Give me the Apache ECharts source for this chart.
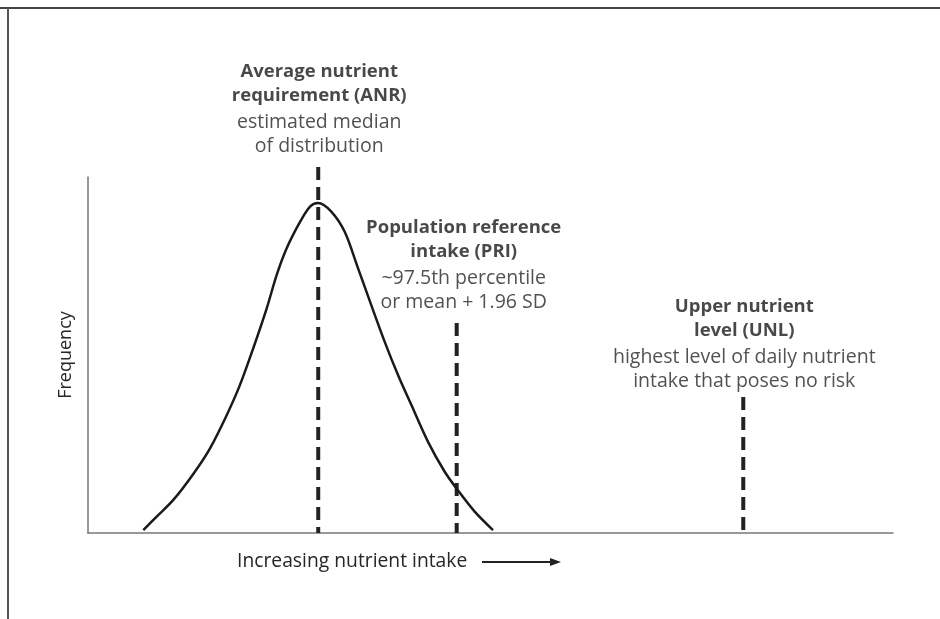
<!DOCTYPE html>
<html>
<head>
<meta charset="utf-8">
<script src="https://cdn.jsdelivr.net/npm/echarts@6/dist/echarts.min.js"></script>
<style>
  html, body { margin: 0; padding: 0; background: #fff; }
  #chart { width: 940px; height: 619px; }
</style>
</head>
<body>
<div id="chart"></div>
<script>
// intake distribution curve (intake units 0-100, relative frequency 0-1)
const curveX = [6.87, 8.53, 10.60, 13.08, 15.16, 17.23, 18.88, 20.53, 22.20, 23.44, 24.68, 26.34, 27.58, 28.57,
    30.22, 31.89, 33.54, 35.19, 36.86, 38.51, 40.16, 42.24, 44.31, 45.75, 48.04, 50.31];
const curveY = [0.008, 0.046, 0.093, 0.166, 0.238, 0.331, 0.416, 0.519, 0.631, 0.725, 0.800, 0.874, 0.917, 0.927,
    0.903, 0.846, 0.744, 0.640, 0.537, 0.444, 0.360, 0.256, 0.172, 0.126, 0.060, 0.008];

// reference values drawn as dashed lines
const refX = [28.6, 45.8, 81.4];
const refTop = [1.028, 0.590, 0.382];
const refTitle = [
    ["Average nutrient", "requirement (ANR)"],
    ["Population reference", "intake (PRI)"],
    ["Upper nutrient", "level (UNL)"]
];
const refNote = [
    ["estimated median", "of distribution"],
    ["~97.5th percentile", "or mean + 1.96 SD"],
    ["highest level of daily nutrient", "intake that poses no risk"]
];
const labelGap = [8, 8, 3];
const labelShift = [1, 7, 1];

const axisName = "Frequency";
const intakeName = "Increasing nutrient intake";

const FONT = "'Open Sans', 'Noto Sans', sans-serif";
const chart = echarts.init(document.getElementById("chart"));

const dashSeries = refX.map((x, i) => ({
    type: "line",
    data: [[x, refTop[i]], [x, 0]],
    symbol: "none",
    clip: false,
    silent: true,
    lineStyle: { color: "#222", width: 4, type: [13, 7] },
    z: 3
}));

const labelSeries = {
    type: "scatter",
    symbolSize: 1,
    clip: false,
    itemStyle: { color: "transparent" },
    silent: true,
    data: refX.map((x, i) => ({
        value: [x, refTop[i]],
        label: {
            show: true,
            position: "top",
            distance: labelGap[i],
            offset: [labelShift[i], 0],
            formatter: refTitle[i].map(t => "{b|" + t + "}").join("\n") + "\n{s| }\n" +
                refNote[i].map(t => "{n|" + t + "}").join("\n")
        }
    })),
    label: {
        align: "center",
        fontFamily: FONT,
        rich: {
            b: { fontFamily: FONT, fontSize: 18.5, fontWeight: "bold", color: "#1a1a1a", lineHeight: 24, align: "center" },
            n: { fontFamily: FONT, fontSize: 19.5, color: "#262626", lineHeight: 24, align: "center" },
            s: { fontSize: 1, lineHeight: 3 }
        }
    },
    z: 5
};

const option = {
    animation: false,
    grid: { left: 88, right: 47, top: 177, bottom: 86 },
    xAxis: {
        type: "value",
        min: 0,
        max: 100,
        axisLine: { show: true, lineStyle: { color: "#777", width: 1.5 } },
        axisTick: { show: false },
        axisLabel: { show: false },
        splitLine: { show: false }
    },
    yAxis: {
        type: "value",
        min: 0,
        max: 1,
        name: axisName,
        nameLocation: "middle",
        nameRotate: 90,
        nameGap: 13,
        nameTextStyle: { fontFamily: FONT, fontSize: 18, color: "#262626" },
        axisLine: { show: true, lineStyle: { color: "#777", width: 1.5 } },
        axisTick: { show: false },
        axisLabel: { show: false },
        splitLine: { show: false }
    },
    series: [
        {
            type: "line",
            data: curveX.map((x, i) => [x, curveY[i]]),
            smooth: 0.3,
            symbol: "none",
            silent: true,
            lineStyle: { color: "#1a1a1a", width: 2.5 },
            z: 4
        },
        ...dashSeries,
        labelSeries
    ],
    graphic: [
        // frame lines
        { type: "line", shape: { x1: 0, y1: 8, x2: 940, y2: 8 }, style: { stroke: "#444", lineWidth: 2 } },
        { type: "line", shape: { x1: 8, y1: 8, x2: 8, y2: 619 }, style: { stroke: "#555", lineWidth: 2 } },
        // axis caption with arrow
        {
            type: "text", x: 237, y: 562,
            style: { text: intakeName, font: "19.3px " + FONT, fill: "#262626", verticalAlign: "middle" }
        },
        { type: "line", shape: { x1: 482, y1: 562, x2: 552, y2: 562 }, style: { stroke: "#222", lineWidth: 2 } },
        { type: "polygon", shape: { points: [[561, 562], [550, 558], [550, 566]] }, style: { fill: "#222" } }
    ]
};

chart.setOption(option);
</script>
</body>
</html>
